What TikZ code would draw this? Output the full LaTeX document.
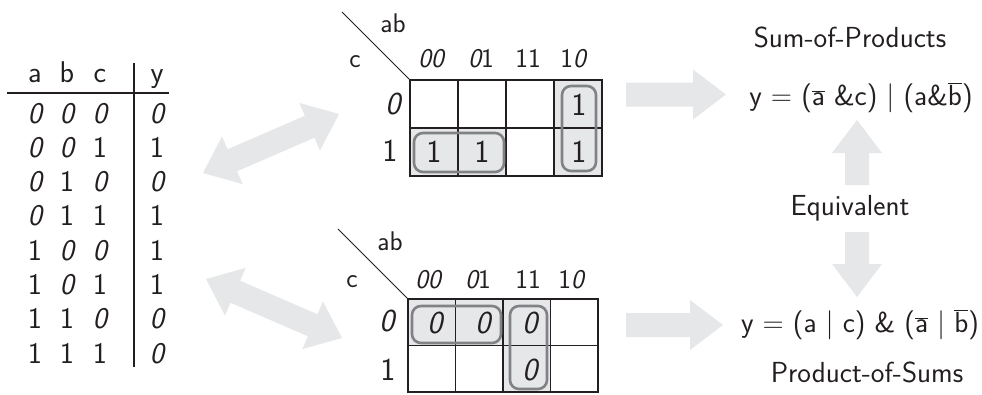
\documentclass[tikz,border=0pt]{standalone}
\usepackage{fontspec}
\usetikzlibrary{calc}
\definecolor{arr}{HTML}{E6E7E8}
\definecolor{shadec}{HTML}{E6E7E8}
\definecolor{loopc}{HTML}{808285}
\definecolor{ink}{HTML}{231F20}
\newcommand{\zz}{{\itshape 0}}
\newcommand{\ob}[1]{\ensuremath{\overline{\mbox{#1}}}}
\newcommand{\fs}[1]{\sffamily\fontsize{#1}{#1}\selectfont}
\newcommand{\dblarrow}[2]{%
 \fill[blockarrow] (#1)
 -- ($(#1)!32pt!(#2)!26pt!90:(#2)$)
 -- ($(#1)!32pt!(#2)!12pt!90:(#2)$)
 -- ($(#2)!32pt!(#1)!12pt!-90:(#1)$)
 -- ($(#2)!32pt!(#1)!26pt!-90:(#1)$)
 -- (#2)
 -- ($(#2)!32pt!(#1)!26pt!90:(#1)$)
 -- ($(#2)!32pt!(#1)!12pt!90:(#1)$)
 -- ($(#1)!32pt!(#2)!12pt!-90:(#2)$)
 -- ($(#1)!32pt!(#2)!26pt!-90:(#2)$)
 -- cycle;}
\newcommand{\sglarrow}[2]{%
 \fill[blockarrow] ($(#1)!12pt!90:(#2)$)
 -- ($(#2)!33pt!(#1)!12pt!-90:(#1)$)
 -- ($(#2)!33pt!(#1)!25pt!-90:(#1)$)
 -- (#2)
 -- ($(#2)!33pt!(#1)!25pt!90:(#1)$)
 -- ($(#2)!33pt!(#1)!12pt!90:(#1)$)
 -- ($(#1)!12pt!-90:(#2)$)
 -- cycle;}
\begin{document}
\begin{tikzpicture}[x=1pt,y=-1pt,
  every node/.style={inner sep=0pt, outer sep=0pt, text=ink},
  tabtxt/.style={anchor=base, font=\fs{30}},
  celltxt/.style={anchor=center, font=\fs{32}},
  lbl/.style={anchor=base, font=\fs{27}},
  eqtxt/.style={anchor=base, font=\fs{29}},
  ttl/.style={anchor=base, font=\fs{29}\addfontfeatures{LetterSpace=5}},
  blockarrow/.style={fill=arr, draw=none},
  grp/.style={draw=loopc, line width=2.6pt, rounded corners=9pt},
  thingrid/.style={draw=ink, line width=1.3pt},
  thickgrid/.style={draw=ink, line width=2.6pt},
  tabline/.style={draw=ink, line width=2pt}]
\useasboundingbox (0,0) rectangle (982,394);

% ---------- truth table ----------
\node[tabtxt] (ha) at (35,82) {a};
\node[tabtxt] (hb) at (67,82) {b};
\node[tabtxt] (hc) at (100,82) {c};
\node[tabtxt] (hy) at (157,82) {y};
\coordinate (hl1) at (7,93);
\coordinate (hl2) at (169,93);
\coordinate (vl1) at (134,63);
\coordinate (vl2) at (134,367);
\draw[tabline] (hl1) -- (hl2);
\draw[tabline] (vl1) -- (vl2);
\foreach \a/\b/\c/\y [count=\i from 0] in
  {\zz/\zz/\zz/\zz, \zz/\zz/1/1, \zz/1/\zz/\zz, \zz/1/1/1,
   1/\zz/\zz/1, 1/\zz/1/1, 1/1/\zz/\zz, 1/1/1/\zz}{
  \node[tabtxt] (ra\i) at (35,123+34.3*\i) {\a};
  \node[tabtxt] (rb\i) at (67,123+34.3*\i) {\b};
  \node[tabtxt] (rc\i) at (100,123+34.3*\i) {\c};
  \node[tabtxt] (ry\i) at (157,123+34.3*\i) {\y};
}

% ---------- top K-map ----------
\fill[shadec] (554,80) rectangle (602,176);
\fill[shadec] (410,128) rectangle (506,176);
\draw[thingrid] (458,80) -- (458,176) (506,80) -- (506,176) (554,80) -- (554,176) (410,128) -- (602,128);
\draw[thickgrid] (410,80) rectangle (602,176);
\coordinate (d1s) at (342,12);
\coordinate (d1e) at (410,80);
\draw[ink, line width=1pt] (d1s) -- (d1e);
\draw[grp] (414,133) rectangle (504,172);
\draw[grp] (562,86) rectangle (596,171);
\node[lbl] (tab) at (393,32) {ab};
\node[lbl] (tc) at (355,67) {c};
\node[lbl] (th1) at (431,67) {\zz\zz};
\node[lbl] (th2) at (481,67) {\zz1};
\node[lbl] (th3) at (528,67) {11};
\node[lbl] (th4) at (573,67) {1\zz};
\node[celltxt] (tr0) at (393,104) {\zz};
\node[celltxt] (tr1) at (390,151) {1};
\node[celltxt] (tk1) at (579,105) {1};
\node[celltxt] (tk2) at (579,152) {1};
\node[celltxt] (tk3) at (434,152) {1};
\node[celltxt] (tk4) at (482,152) {1};

% ---------- bottom K-map ----------
\fill[shadec] (408,299) rectangle (551,346);
\fill[shadec] (503,346) rectangle (551,392);
\draw[thingrid] (455.5,299) -- (455.5,392) (503,299) -- (503,392) (550.5,299) -- (550.5,392) (408,345.5) -- (598,345.5);
\draw[thickgrid] (408,299) rectangle (598,392);
\coordinate (d2s) at (338,229);
\coordinate (d2e) at (408,299);
\draw[ink, line width=1pt] (d2s) -- (d2e);
\draw[grp] (412,306) rectangle (501,343);
\draw[grp] (510,306) rectangle (547,389);
\node[lbl] (bab) at (390,250) {ab};
\node[lbl] (bc) at (352,287) {c};
\node[lbl] (bh1) at (428,288) {\zz\zz};
\node[lbl] (bh2) at (478,288) {\zz1};
\node[lbl] (bh3) at (528,288) {11};
\node[lbl] (bh4) at (571,288) {1\zz};
\node[celltxt] (br0) at (387,321) {\zz};
\node[celltxt] (br1) at (388,370) {1};
\node[celltxt] (bk1) at (435,323) {\zz};
\node[celltxt] (bk2) at (483,323) {\zz};
\node[celltxt] (bk3) at (530,323) {\zz};
\node[celltxt] (bk4) at (530,370) {\zz};

% ---------- arrows ----------
\coordinate (a1a) at (203,173);
\coordinate (a1b) at (339,114);
\dblarrow{a1a}{a1b}
\coordinate (a2a) at (206,279);
\coordinate (a2b) at (342,338);
\dblarrow{a2a}{a2b}
\coordinate (r1a) at (626,94.5);
\coordinate (r1b) at (726,94.5);
\sglarrow{r1a}{r1b}
\coordinate (r2a) at (626,325);
\coordinate (r2b) at (723,325);
\sglarrow{r2a}{r2b}
\coordinate (u1a) at (857,185);
\coordinate (u1b) at (857,120);
\sglarrow{u1a}{u1b}
\coordinate (u2a) at (857,232);
\coordinate (u2b) at (857,297);
\sglarrow{u2a}{u2b}

% ---------- expressions ----------
\node[ttl] (sop) at (850,47) {Sum-of-Products};
\node[eqtxt] (eq1) at (861,105) {y = (\ob{a} \&c) | (a\&\ob{b})};
\node[ttl] (equ) at (850,215) {Equivalent};
\node[eqtxt] (eq2) at (860,332) {y = (a | c) \& (\ob{a} | \ob{b})};
\node[ttl] (pos) at (867,382) {Product-of-Sums};
\end{tikzpicture}
\end{document}
